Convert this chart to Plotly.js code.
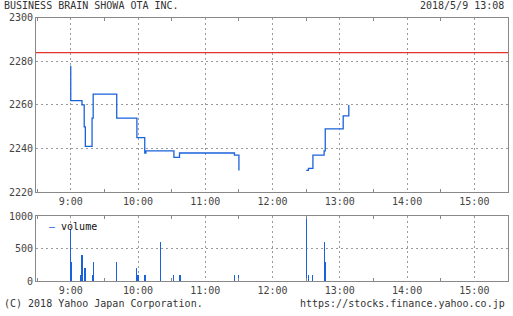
<!DOCTYPE html>
<html>
<head>
<meta charset="utf-8">
<script src="https://cdn.plot.ly/plotly-3.0.1.min.js"></script>
<style>
  html, body { margin: 0; padding: 0; background: #fff; }
  #chart { width: 513px; height: 316px; }
</style>
</head>
<body>
<div id="chart"></div>
<script>
// Intraday price (1-minute steps), morning and afternoon sessions
const day = '2018-05-09 ';
const amTimes  = ['09:00', '09:00', '09:10', '09:12', '09:13', '09:19', '09:20', '09:41', '09:59', '10:06', '10:07', '10:32', '10:37', '11:26', '11:30'];
const amPrices = [2278, 2262, 2260, 2250, 2241, 2254, 2265, 2254, 2245, 2238, 2239, 2236, 2238, 2237, 2230];
const pmTimes  = ['12:30', '12:32', '12:36', '12:46', '12:47', '13:03', '13:08'];
const pmPrices = [2230, 2231, 2237, 2239, 2249, 2255, 2260];

// Previous close
const prevClose = 2284;

// Traded volume per minute
const volTimes = ['09:00', '09:01', '09:09', '09:10', '09:12', '09:13', '09:19', '09:20', '09:41', '09:59', '10:00', '10:06', '10:07', '10:20', '10:32', '10:37', '10:38', '11:26', '11:30', '12:30', '12:32', '12:36', '12:46', '12:47'];
const volumes  = [800, 300, 100, 400, 200, 200, 100, 300, 300, 200, 100, 100, 100, 600, 100, 100, 100, 100, 100, 1000, 100, 100, 600, 300];

// Header / footer text
const companyName = 'BUSINESS BRAIN SHOWA OTA INC.';
const stampText   = '2018/5/9 13:08';
const copyright   = '(C) 2018 Yahoo Japan Corporation.';
const siteUrl     = 'https://stocks.finance.yahoo.co.jp';

const BLUE = '#1a62dc';
const W = 513, H = 316;
const stamp = t => day + t;

const priceLine = { color: BLUE, width: 1.3, shape: 'hv' };
const traces = [
  { x: amTimes.map(stamp), y: amPrices, type: 'scatter', mode: 'lines', line: priceLine,
    xaxis: 'x', yaxis: 'y', showlegend: false, hoverinfo: 'skip' },
  { x: pmTimes.map(stamp), y: pmPrices, type: 'scatter', mode: 'lines', line: priceLine,
    xaxis: 'x', yaxis: 'y', showlegend: false, hoverinfo: 'skip' },
  { x: volTimes.map(stamp), y: volumes, type: 'bar', width: 60000,
    marker: { color: BLUE, line: { width: 0 } },
    xaxis: 'x2', yaxis: 'y2', showlegend: false, hoverinfo: 'skip' }
];

const tickFont = { family: 'DejaVu Sans Mono', size: 10, color: '#444' };
const FRAME = '#888';
const GRID = '#9a9a9a';

function timeAxis(anchor) {
  return {
    type: 'date',
    anchor: anchor,
    domain: [36 / W, 508 / W],
    range: [day + '08:29', day + '15:30'],
    tick0: day + '09:00',
    dtick: 3600000,
    tickformat: '%-H:%M',
    tickfont: tickFont,
    ticks: '',
    showgrid: true,
    gridcolor: GRID,
    griddash: '2px,3px',
    gridwidth: 1,
    minor: { tick0: day + '08:30', dtick: 1800000, ticks: 'inside', ticklen: 3, tickcolor: FRAME, showgrid: false },
    showline: true,
    linecolor: FRAME,
    linewidth: 1,
    mirror: 'allticks',
    zeroline: false,
    fixedrange: true
  };
}

function valueAxis(domain, range, dtick) {
  return {
    domain: domain,
    range: range,
    dtick: dtick,
    tickfont: tickFont,
    ticks: '',
    showgrid: true,
    gridcolor: GRID,
    griddash: '2px,3px',
    showline: true,
    linecolor: FRAME,
    linewidth: 1,
    mirror: true,
    zeroline: false,
    fixedrange: true
  };
}

const textFont = { family: 'DejaVu Sans Mono', size: 10, color: '#333' };

const layout = {
  width: W,
  height: H,
  margin: { l: 0, r: 0, t: 0, b: 0 },
  paper_bgcolor: '#fff',
  plot_bgcolor: '#fff',
  showlegend: false,
  bargap: 0,
  xaxis: timeAxis('y'),
  xaxis2: Object.assign(timeAxis('y2'), { matches: 'x' }),
  yaxis: valueAxis([1 - 192.3 / H, 1 - 17.6 / H], [2220, 2300], 20),
  yaxis2: valueAxis([1 - 281.3 / H, 1 - 216.3 / H], [0, 1000], 500),
  shapes: [
    { type: 'line', xref: 'x domain', x0: 0, x1: 1, yref: 'y', y0: prevClose, y1: prevClose,
      line: { color: '#e3322b', width: 1.2 } }
  ],
  annotations: [
    { text: companyName, xref: 'paper', yref: 'paper', x: 2 / W, y: 1 - 6 / H,
      xanchor: 'left', yanchor: 'middle', showarrow: false, font: textFont },
    { text: stampText, xref: 'paper', yref: 'paper', x: 506 / W, y: 1 - 6 / H,
      xanchor: 'right', yanchor: 'middle', showarrow: false, font: textFont },
    { text: copyright, xref: 'paper', yref: 'paper', x: 2 / W, y: 1 - 303 / H,
      xanchor: 'left', yanchor: 'middle', showarrow: false, font: textFont },
    { text: siteUrl, xref: 'paper', yref: 'paper', x: 507 / W, y: 1 - 303 / H,
      xanchor: 'right', yanchor: 'middle', showarrow: false, font: textFont },
    { text: '<span style="color:' + BLUE + '">\u2014</span> volume', xref: 'paper', yref: 'paper',
      x: 47 / W, y: 1 - 226 / H, xanchor: 'left', yanchor: 'middle', showarrow: false,
      font: { family: 'DejaVu Sans Mono', size: 10, color: '#111' } }
  ]
};

Plotly.newPlot('chart', traces, layout, { staticPlot: true, displayModeBar: false });
</script>
</body>
</html>
